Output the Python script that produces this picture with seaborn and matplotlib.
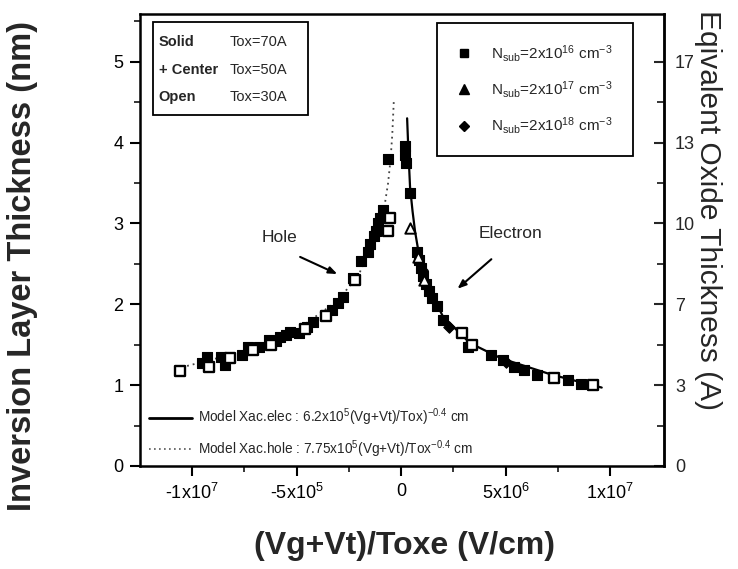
import numpy as np
import pandas as pd
import matplotlib
matplotlib.use("Agg")
import matplotlib.pyplot as plt
from matplotlib.lines import Line2D
from matplotlib.patches import Rectangle
import seaborn as sns

# ---------------- data ----------------
# hole branch, Tox=70A (solid squares)
hole_solid_x = [-9.5e6, -9.3e6, -8.6e6, -8.4e6, -7.6e6, -7.3e6, -6.8e6, -6.3e6, -6.0e6, -5.8e6,
                -5.5e6, -5.3e6, -4.9e6, -4.5e6, -4.2e6, -3.3e6, -3.0e6, -2.8e6, -2.3e6, -1.9e6,
                -1.6e6, -1.5e6, -1.3e6, -1.2e6, -1.1e6, -1.0e6, -0.87e6, -0.62e6]
hole_solid_y = [1.27, 1.35, 1.35, 1.25, 1.37, 1.47, 1.47, 1.56, 1.55, 1.60,
                1.62, 1.66, 1.64, 1.72, 1.78, 1.93, 2.02, 2.09, 2.33, 2.54,
                2.65, 2.75, 2.85, 2.91, 3.00, 3.07, 3.16, 3.80]
# hole branch, Tox=30A (open squares)
hole_open_x = [-1.06e7, -9.2e6, -8.2e6, -7.1e6, -6.2e6, -4.6e6, -3.6e6, -2.2e6, -0.55e6, -0.62e6]
hole_open_y = [1.18, 1.22, 1.33, 1.43, 1.50, 1.70, 1.85, 2.30, 3.07, 2.91]
# electron branch, Tox=70A (solid squares)
elec_solid_x = [0.19e6, 0.21e6, 0.23e6, 0.43e6, 0.75e6, 0.85e6, 0.95e6, 1.05e6, 1.2e6, 1.35e6,
                1.5e6, 1.7e6, 2.0e6, 3.2e6, 4.3e6, 4.9e6, 5.4e6, 5.9e6, 6.5e6, 8.0e6, 8.6e6]
elec_solid_y = [3.96, 3.85, 3.75, 3.38, 2.65, 2.55, 2.45, 2.35, 2.25, 2.17,
                2.08, 1.98, 1.80, 1.47, 1.37, 1.31, 1.22, 1.19, 1.12, 1.06, 1.02]
# electron branch, Tox=30A (open squares)
elec_open_x = [2.9e6, 3.4e6, 7.3e6, 9.2e6]
elec_open_y = [1.64, 1.50, 1.09, 1.00]
# Nsub=2e17 (triangles) and Nsub=2e18 (diamonds)
tri_x = [0.43e6, 0.8e6, 1.1e6]
tri_y = [2.94, 2.58, 2.30]
dia_x = [1.0e6, 2.3e6, 5.0e6]
dia_y = [2.42, 1.72, 1.29]

# model curves
model_elec_x = [0.29e6, 0.35e6, 0.43e6, 0.55e6, 0.67e6, 0.9e6, 1.4e6, 2.0e6, 3.3e6, 4.8e6, 7.2e6, 9.6e6]
model_elec_y = [4.30, 3.90, 3.45, 3.15, 2.90, 2.55, 2.17, 1.85, 1.52, 1.33, 1.13, 0.97]
model_hole_x = [-0.35e6, -0.42e6, -0.5e6, -0.62e6, -0.8e6, -1.2e6, -2.0e6, -3.0e6, -5.0e6, -7.5e6, -1.05e7]
model_hole_y = [4.50, 4.10, 3.80, 3.50, 3.20, 2.85, 2.38, 2.05, 1.68, 1.42, 1.22]

x_ticks = [-1e7, -5e6, 0, 5e6, 1e7]
x_ticklabels = [r"-1x10$^{7}$", r"-5x10$^{5}$", "0", r"5x10$^{6}$", r"1x10$^{7}$"]
y_ticks = [0, 1, 2, 3, 4, 5]
eot_ticks = [0, 10/3, 20/3, 10, 40/3, 50/3]
eot_ticklabels = ["0", "3", "7", "10", "13", "17"]

# ---------------- style ----------------
sns.set_style("ticks")
plt.rcParams["font.family"] = ["Liberation Sans", "DejaVu Sans"]
plt.rcParams["mathtext.fontset"] = "custom"
plt.rcParams["mathtext.rm"] = "Liberation Sans"
plt.rcParams["mathtext.it"] = "Liberation Sans:italic"
plt.rcParams["mathtext.bf"] = "Liberation Sans:bold"
NARROW = ["Liberation Sans Narrow", "Liberation Sans", "DejaVu Sans"]

fig = plt.figure(figsize=(7.38, 5.69), dpi=100)
ax = fig.add_axes([140/738, 1-466/569, 524/738, 452/569])

# model lines
sns.lineplot(x=model_hole_x, y=model_hole_y, ax=ax, color="#444444", lw=1.3,
             linestyle=(0, (1, 2.2)), sort=False, estimator=None)
sns.lineplot(x=model_elec_x, y=model_elec_y, ax=ax, color="black", lw=1.6,
             sort=False, estimator=None)

ms = 56
sns.scatterplot(x=hole_solid_x, y=hole_solid_y, ax=ax, marker="s", s=ms,
                color="black", edgecolor="black", linewidth=0.8, zorder=3)
sns.scatterplot(x=elec_solid_x, y=elec_solid_y, ax=ax, marker="s", s=ms,
                color="black", edgecolor="black", linewidth=0.8, zorder=3)
sns.scatterplot(x=hole_open_x, y=hole_open_y, ax=ax, marker="s", s=ms,
                color="white", edgecolor="black", linewidth=1.7, zorder=4)
sns.scatterplot(x=elec_open_x, y=elec_open_y, ax=ax, marker="s", s=ms,
                color="white", edgecolor="black", linewidth=1.7, zorder=4)
sns.scatterplot(x=tri_x, y=tri_y, ax=ax, marker="^", s=ms,
                color="white", edgecolor="black", linewidth=1.4, zorder=4)
sns.scatterplot(x=dia_x, y=dia_y, ax=ax, marker="D", s=34,
                color="black", edgecolor="black", linewidth=0.8, zorder=4)

# axes limits / ticks
ax.set_xlim(-1.249e7, 1.258e7)
ax.set_ylim(0, 5.59)
ax.set_xticks(x_ticks)
ax.set_xticklabels(x_ticklabels)
ax.set_xticks([-7.5e6, -2.5e6, 2.5e6, 7.5e6], minor=True)
ax.set_yticks(y_ticks)
ax.set_yticks([0.5, 1.5, 2.5, 3.5, 4.5, 5.5], minor=True)
ax.tick_params(axis="both", which="major", direction="out", length=7, width=1.5,
               labelsize=13, colors="black", pad=5)
ax.tick_params(axis="both", which="minor", direction="out", length=4, width=1.3)
for sp in ax.spines.values():
    sp.set_linewidth(1.8)
    sp.set_color("black")

ax.set_xlabel("(Vg+Vt)/Toxe (V/cm)", fontsize=23, fontweight="bold")
ax.xaxis.label.set_va("center")
ax.xaxis.set_label_coords(0.504, -0.178)
ax.set_ylabel("Inversion Layer Thickness (nm)", fontsize=23.5, fontweight="bold")
ax.yaxis.label.set_va("center")
ax.yaxis.set_label_coords(-0.225, 0.4425)

# right axis: equivalent oxide thickness
sec = ax.secondary_yaxis("right", functions=(lambda y: y * 10 / 3, lambda e: e * 3 / 10))
sec.set_yticks(eot_ticks)
sec.set_yticklabels(eot_ticklabels)
sec.set_yticks([5/3, 5, 25/3, 35/3, 15], minor=True)
sec.tick_params(which="major", direction="in", length=7, width=1.5, labelsize=13, pad=8)
sec.tick_params(which="minor", direction="in", length=5, width=1.3)
sec.spines["right"].set_linewidth(1.8)
sec.set_ylabel("Eqivalent Oxide Thickness (A)", fontsize=21.5, rotation=270)
sec.yaxis.label.set_va("center")
sec.yaxis.set_label_coords(1.084, 0.566, transform=ax.transAxes)

# top-left text box
ax.add_patch(Rectangle((0.0248, 0.7765), 0.296, 0.2055, transform=ax.transAxes,
                       fill=False, edgecolor="black", lw=1.3, zorder=5))
tl_rows = [("Solid", "Tox=70A"), ("+ Center", "Tox=50A"), ("Open", "Tox=30A")]
for (a, b), yy in zip(tl_rows, [0.938, 0.876, 0.816]):
    ax.text(0.036, yy, a, transform=ax.transAxes, fontsize=10.5, fontweight="bold",
            family=NARROW, va="center", ha="left")
    ax.text(0.171, yy, b, transform=ax.transAxes, fontsize=10.5,
            family=NARROW, va="center", ha="left")

# top-right marker legend
nsub_labels = [r"N$_{\mathrm{sub}}$=2x10$^{16}$ cm$^{-3}$ ", r"N$_{\mathrm{sub}}$=2x10$^{17}$ cm$^{-3}$ ",
               r"N$_{\mathrm{sub}}$=2x10$^{18}$ cm$^{-3}$ "]
h1 = [Line2D([], [], ls="none", marker="s", color="black", ms=6),
      Line2D([], [], ls="none", marker="^", color="black", ms=6.5),
      Line2D([], [], ls="none", marker="D", color="black", ms=5)]
leg1 = ax.legend(h1, nsub_labels, loc="upper right", bbox_to_anchor=(0.941, 0.980),
                 frameon=True, fancybox=False, edgecolor="black", framealpha=1,
                 borderaxespad=0, borderpad=1.3, labelspacing=1.0, handlelength=0.9,
                 handletextpad=1.3, prop={"family": NARROW, "size": 11})
leg1.get_frame().set_linewidth(1.3)
ax.add_artist(leg1)

# bottom model legend
h2 = [Line2D([], [], color="black", lw=2.0),
      Line2D([], [], color="#555555", lw=1.2, linestyle=(0, (1, 2)))]
model_labels = [r"Model Xac.elec : 6.2x10$^{5}$(Vg+Vt)/Tox)$^{-0.4}$ cm",
                r"Model Xac.hole : 7.75x10$^{5}$(Vg+Vt)/Tox$^{-0.4}$ cm"]
leg2 = ax.legend(h2, model_labels, loc="lower left", bbox_to_anchor=(0.018, 0.013),
                 frameon=False, borderaxespad=0, borderpad=0, labelspacing=0.75,
                 handlelength=3.1, handletextpad=0.5,
                 prop={"family": NARROW, "size": 9.8})

# annotations
ax.text(-5.8e6, 2.83, "Hole", fontsize=12.5, family=NARROW, ha="center", va="center")
ax.annotate("", xy=(-2.93e6, 2.36), xytext=(-4.95e6, 2.60),
            arrowprops=dict(arrowstyle="-|>,head_length=0.5,head_width=0.2", lw=1.5, color="black"))
ax.text(5.24e6, 2.88, "Electron", fontsize=12.5, family=NARROW, ha="center", va="center")
ax.annotate("", xy=(2.6e6, 2.17), xytext=(4.42e6, 2.58),
            arrowprops=dict(arrowstyle="-|>,head_length=0.5,head_width=0.2", lw=1.5, color="black"))

fig.savefig("out.png", dpi=100)
